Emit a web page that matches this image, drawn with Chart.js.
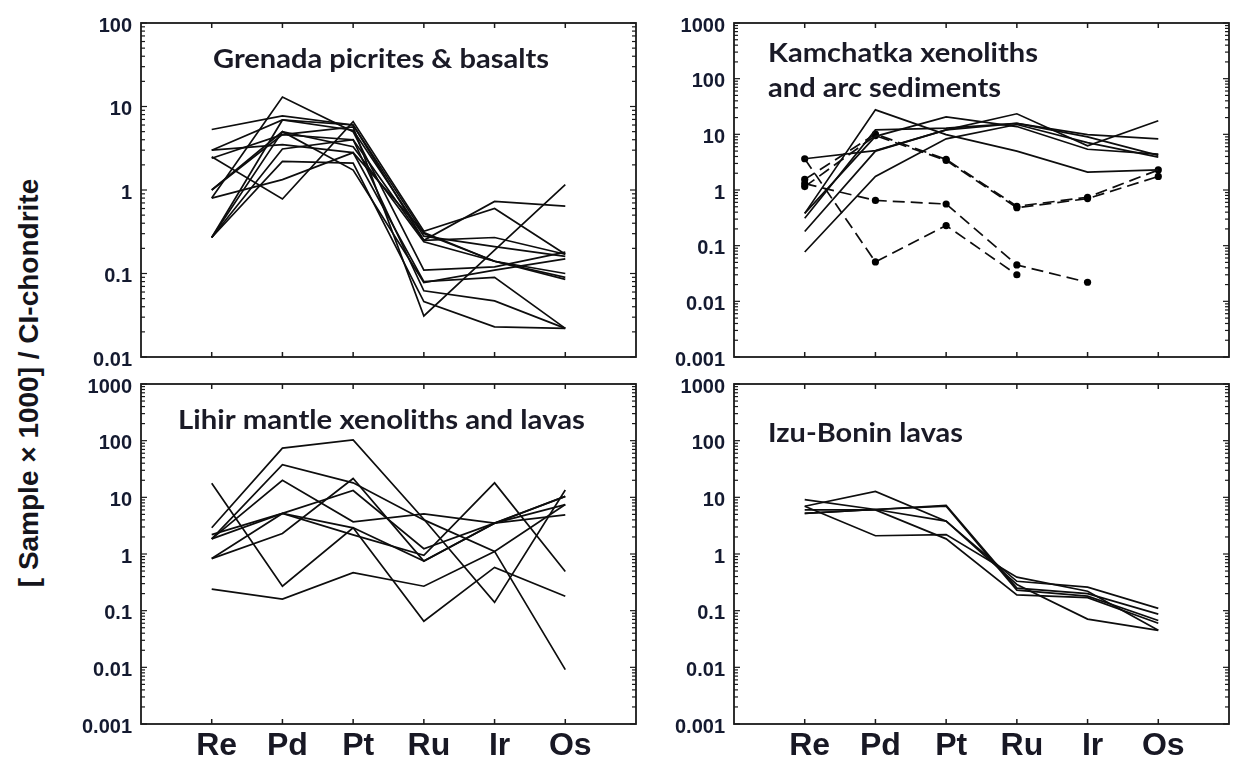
<!DOCTYPE html>
<html>
<head>
<meta charset="utf-8">
<script src="https://cdn.jsdelivr.net/npm/chart.js@4.4.1/dist/chart.umd.min.js"></script>
<style>
  html, body { margin: 0; padding: 0; background: #fff; width: 1235px; height: 765px; overflow: hidden; }
  canvas { position: absolute; }
  #ytitle {
    position: absolute; left: 29px; top: 383px;
    transform: translate(-50%, -50%) rotate(-90deg);
    white-space: nowrap;
    font-family: "Liberation Sans Narrow", "Liberation Sans", Arial, sans-serif;
    font-weight: bold; font-size: 28px; color: #15151c;
  }
</style>
</head>
<body>
<div id="ytitle">[ Sample × 1000] / CI-chondrite</div>
<canvas id="grenada"></canvas>
<canvas id="kamchatka"></canvas>
<canvas id="lihir"></canvas>
<canvas id="izu"></canvas>
<script>
// Element order along the x axis
const elements = ['Re', 'Pd', 'Pt', 'Ru', 'Ir', 'Os'];

// Decade ticks and their printed labels
const decadesNarrow = [0.01, 0.1, 1, 10, 100];
const decadeTextNarrow = ['0.01', '0.1', '1', '10', '100'];
const decadesWide = [0.001, 0.01, 0.1, 1, 10, 100, 1000];
const decadeTextWide = ['0.001', '0.01', '0.1', '1', '10', '100', '1000'];

// Grenada picrites & basalts (Re, Pd, Pt, Ru, Ir, Os)
const grenada01 = [5.3, 7.7, 6.0, 0.30, 0.14, 0.10];
const grenada02 = [3.0, 6.9, 5.2, 0.28, 0.21, 0.16];
const grenada03 = [2.4, 4.6, 4.0, 0.25, 0.73, 0.64];
const grenada04 = [2.5, 0.78, 6.6, 0.32, 0.60, 0.17];
const grenada05 = [1.0, 4.6, 5.7, 0.031, 0.19, 1.16];
const grenada06 = [0.8, 1.33, 2.8, 0.08, 0.09, 0.022];
const grenada07 = [0.8, 13.0, 5.0, 0.11, 0.12, 0.18];
const grenada08 = [0.27, 6.9, 6.0, 0.25, 0.27, 0.17];
const grenada09 = [0.27, 3.1, 4.0, 0.062, 0.047, 0.022];
const grenada10 = [0.27, 2.2, 2.1, 0.046, 0.023, 0.022];
const grenada11 = [1.0, 5.0, 1.73, 0.078, 0.11, 0.15];
const grenada12 = [3.0, 3.5, 2.8, 0.31, 0.14, 0.085];
const grenada13 = [0.27, 5.0, 3.3, 0.24, 0.14, 0.09];

// Kamchatka xenoliths (solid) and arc sediments (dashed)
const kamchatka1 = [3.64, 5.1, 12.0, 15.7, 9.0, 4.2];
const kamchatka2 = [0.38, 27.5, 9.9, 5.0, 2.1, 2.3];
const kamchatka3 = [0.31, 12.0, 12.9, 15.7, 9.9, 8.3];
const kamchatka4 = [0.38, 9.2, 20.5, 13.8, 5.4, 4.4];
const kamchatka5 = [0.18, 5.0, 12.0, 23.4, 6.2, 17.5];
const kamchatka6 = [0.077, 1.75, 8.3, 15.0, 7.1, 3.9];
const sediment1 = [3.64, 0.051, 0.23, 0.030, null, null];
const sediment2 = [1.3, 0.65, 0.56, 0.045, 0.022, null];
const sediment3 = [1.55, 10.1, 3.55, 0.51, 0.74, 2.29];
const sediment4 = [1.15, 9.5, 3.4, 0.48, 0.70, 1.75];

// Lihir mantle xenoliths and lavas
const lihir1 = [17.7, 0.27, 2.9, 0.75, 3.5, 10.4];
const lihir2 = [2.9, 74, 103, 4.1, 0.14, 13.5];
const lihir3 = [1.85, 37.7, 18, 4.0, 1.11, 0.0091];
const lihir4 = [1.85, 20, 3.7, 5.1, 3.5, 4.9];
const lihir5 = [0.83, 5.2, 2.9, 0.065, 0.58, 0.18];
const lihir6 = [0.83, 2.3, 21.5, 0.75, 3.5, 7.45];
const lihir7 = [2.2, 5.2, 13.2, 1.24, 3.5, 10.4];
const lihir8 = [0.24, 0.16, 0.47, 0.27, 1.11, 7.45];
const lihir9 = [1.85, 5.2, 2.17, 0.95, 18, 0.49];

// Izu-Bonin lavas
const izu1 = [9.1, 6.1, 3.8, 0.29, 0.071, 0.045];
const izu2 = [6.97, 12.7, 3.8, 0.33, 0.26, 0.11];
const izu3 = [5.2, 6.1, 7.2, 0.25, 0.20, 0.087];
const izu4 = [5.2, 6.1, 7.0, 0.23, 0.18, 0.067];
const izu5 = [6.97, 2.1, 2.2, 0.39, 0.22, 0.045];
const izu6 = [6.0, 6.0, 1.85, 0.19, 0.17, 0.06];

const INK = '#0d0d0d';
const LABEL = '#141a30';

// Frame with inward tick marks on all four sides
const framePlugin = {
  id: 'frame',
  afterDatasetsDraw(chart) {
    const { ctx, chartArea: a, scales: { x, y } } = chart;
    ctx.save();
    ctx.strokeStyle = '#1a1a1a';
    const seg = (x1, y1, x2, y2) => { ctx.beginPath(); ctx.moveTo(x1, y1); ctx.lineTo(x2, y2); ctx.stroke(); };
    ctx.lineWidth = 1.2;
    y.ticks.forEach(t => {
      const py = y.getPixelForValue(t.value);
      const len = t.major ? 6 : 4;
      seg(a.left, py, a.left + len, py);
      seg(a.right, py, a.right - len, py);
    });
    ctx.lineWidth = 1.5;
    x.ticks.forEach(t => {
      const px = x.getPixelForValue(t.value);
      seg(px, a.top, px, a.top + 5);
      seg(px, a.bottom, px, a.bottom - 5);
    });
    ctx.lineWidth = 1.8;
    ctx.strokeRect(a.left, a.top, a.right - a.left, a.bottom - a.top);
    ctx.restore();
  }
};

// Panel heading, each line stretched to its measured width
const headingPlugin = {
  id: 'heading',
  afterDraw(chart, args, opts) {
    if (!opts.lines) return;
    const { ctx, chartArea: a } = chart;
    ctx.save();
    ctx.fillStyle = '#1a1a26';
    ctx.textBaseline = 'alphabetic';
    ctx.font = 'bold ' + opts.size + 'px Lato, "Open Sans", sans-serif';
    opts.lines.forEach((txt, i) => {
      const w = ctx.measureText(txt).width;
      const sx = opts.widths[i] / w;
      ctx.save();
      ctx.translate(a.left + opts.x, a.top + opts.baselines[i]);
      ctx.scale(sx, 1);
      ctx.fillText(txt, 0, 0);
      ctx.restore();
    });
    ctx.restore();
  }
};

function logTicks(majors) {
  const t = [];
  majors.forEach((d, i) => {
    t.push({ value: d, major: true });
    if (i < majors.length - 1) for (let m = 2; m < 10; m++) t.push({ value: m * d, major: false });
  });
  return t;
}

function lineSet(arr, dashed) {
  return {
    data: arr.map((v, i) => ({ x: i, y: v })),
    borderColor: INK,
    borderWidth: 1.7,
    borderDash: dashed ? [12, 6] : [],
    pointRadius: dashed ? 3.6 : 0,
    pointBackgroundColor: '#000',
    pointBorderWidth: 0,
    tension: 0,
    spanGaps: false
  };
}

const LEFT = 100, TOP = 14, RIGHT = 8;

function makePanel(id, area, opt) {
  const [l, t, r, b] = area;
  const xh = opt.showElements ? 46 : 16;
  const cv = document.getElementById(id);
  cv.width = (r - l) + LEFT + RIGHT;
  cv.height = (b - t) + TOP + xh;
  cv.style.left = (l - LEFT) + 'px';
  cv.style.top = (t - TOP) + 'px';
  const datasets = opt.solid.map(s => lineSet(s, false)).concat((opt.dashed || []).map(s => lineSet(s, true)));
  new Chart(cv, {
    type: 'line',
    data: { datasets },
    plugins: [framePlugin, headingPlugin],
    options: {
      responsive: false,
      animation: false,
      events: [],
      layout: { padding: { left: 0, top: TOP, right: RIGHT, bottom: 0 } },
      plugins: {
        legend: { display: false },
        tooltip: { enabled: false },
        heading: opt.heading
      },
      scales: {
        x: {
          type: 'linear', min: -1, max: 6,
          grid: { display: false, drawTicks: false },
          border: { display: false },
          afterBuildTicks: s => { s.ticks = elements.map((e, i) => ({ value: i })); },
          afterFit: s => { s.height = xh; },
          ticks: {
            display: !!opt.showElements,
            autoSkip: false, maxRotation: 0,
            padding: 3, labelOffset: 5,
            color: '#181824',
            font: { family: '"Liberation Sans", Arial, sans-serif', weight: 'bold', size: 32 },
            callback: v => elements[v]
          }
        },
        y: {
          type: 'logarithmic', min: opt.decades[0], max: opt.decades[opt.decades.length - 1],
          grid: { display: false, drawTicks: false },
          border: { display: false },
          afterBuildTicks: s => { s.ticks = logTicks(opt.decades); },
          afterFit: s => { s.width = LEFT; },
          ticks: {
            autoSkip: false, padding: 9, labelOffset: 3,
            color: LABEL,
            font: { family: '"Liberation Sans", Arial, sans-serif', weight: 'bold', size: 20 },
            callback: v => { const k = opt.decades.indexOf(v); return k >= 0 ? opt.decadeText[k] : ''; }
          }
        }
      }
    }
  });
}

makePanel('grenada', [141, 16, 636, 362], {
  decades: decadesNarrow, decadeText: decadeTextNarrow,
  solid: [grenada01, grenada02, grenada03, grenada04, grenada05, grenada06, grenada07,
          grenada08, grenada09, grenada10, grenada11, grenada12, grenada13],
  heading: { lines: ['Grenada picrites & basalts'], widths: [336], x: 72, baselines: [45], size: 26 }
});

makePanel('kamchatka', [734, 16, 1229, 362], {
  decades: decadesWide, decadeText: decadeTextWide,
  solid: [kamchatka1, kamchatka2, kamchatka3, kamchatka4, kamchatka5, kamchatka6],
  dashed: [sediment1, sediment2, sediment3, sediment4],
  heading: { lines: ['Kamchatka xenoliths', 'and arc sediments'], widths: [270, 233], x: 34, baselines: [39, 74], size: 26 }
});

makePanel('lihir', [141, 377, 636, 724], {
  decades: decadesWide, decadeText: decadeTextWide, showElements: true,
  solid: [lihir1, lihir2, lihir3, lihir4, lihir5, lihir6, lihir7, lihir8, lihir9],
  heading: { lines: ['Lihir mantle xenoliths and lavas'], widths: [407], x: 37, baselines: [45], size: 26 }
});

makePanel('izu', [734, 377, 1229, 724], {
  decades: decadesWide, decadeText: decadeTextWide, showElements: true,
  solid: [izu1, izu2, izu3, izu4, izu5, izu6],
  heading: { lines: ['Izu-Bonin lavas'], widths: [195], x: 34, baselines: [58], size: 26 }
});
</script>
</body>
</html>
